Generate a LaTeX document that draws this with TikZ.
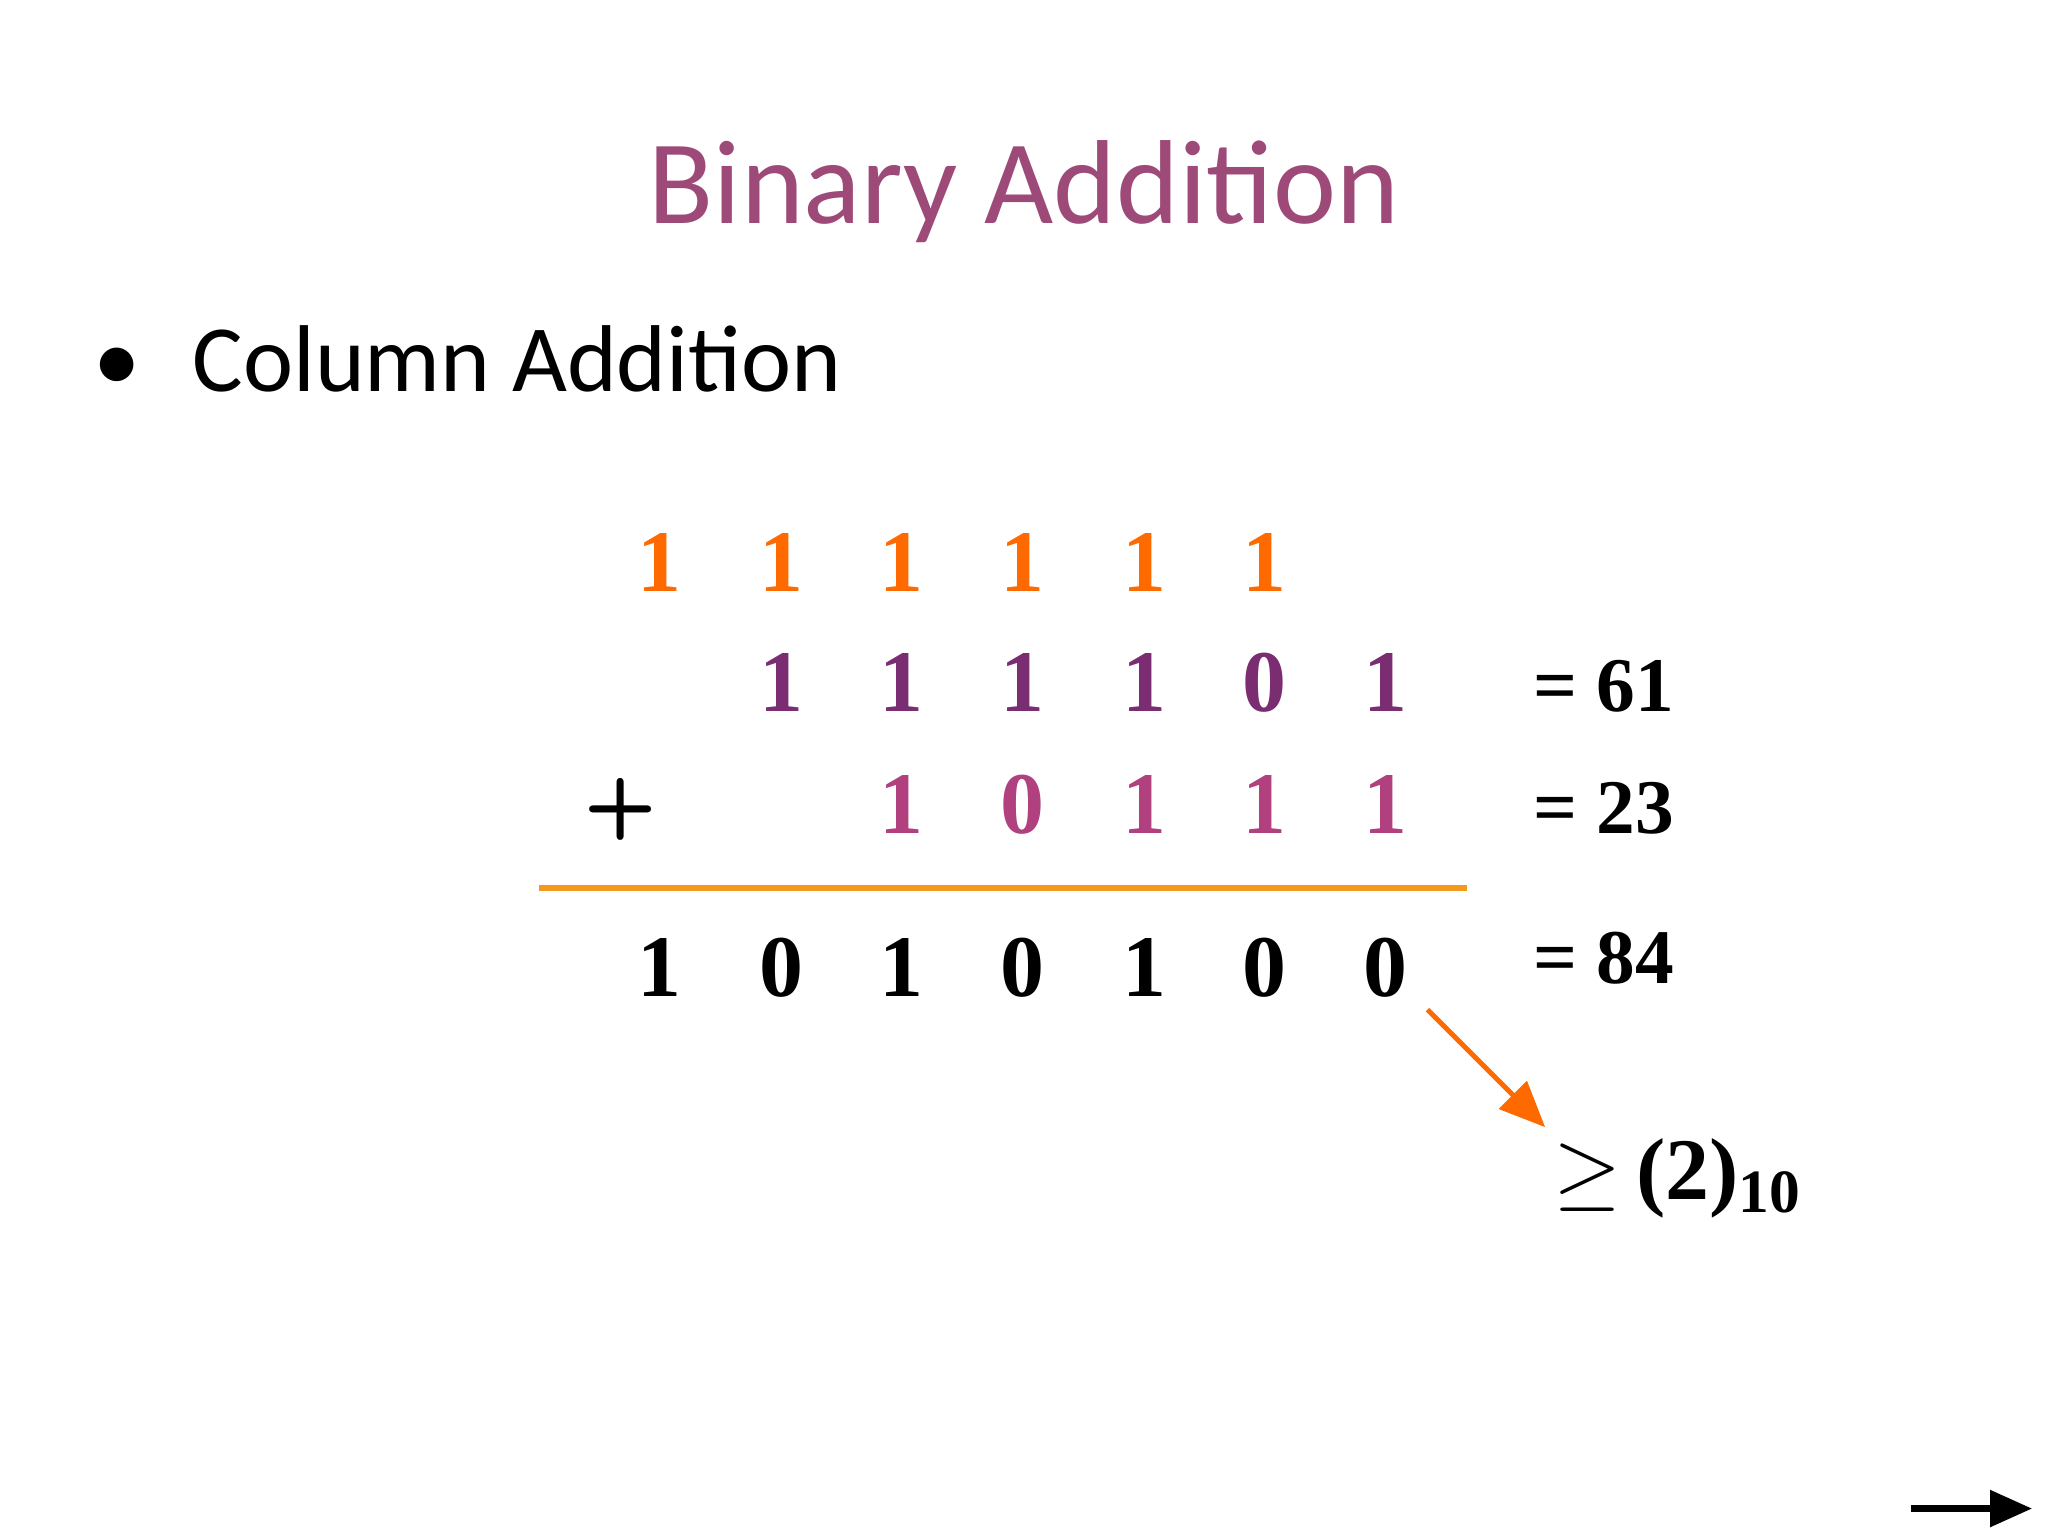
\documentclass[tikz,border=0pt]{standalone}
\usepackage{fontspec}
\setmainfont{Liberation Serif}
\newfontfamily\calfont{Carlito}
\usetikzlibrary{arrows.meta}
\definecolor{ttl}{HTML}{9E4A78}
\definecolor{carry}{HTML}{FF6A00}
\definecolor{rowa}{HTML}{7B2D72}
\definecolor{rowb}{HTML}{B0407E}
\definecolor{rule}{HTML}{F39A1E}
\tikzset{dg/.style={font=\fontsize{25}{30}\selectfont\bfseries, anchor=base},
 eq/.style={font=\fontsize{22}{26}\selectfont\bfseries, anchor=base}}
\begin{document}
\begin{tikzpicture}[x=0.01306cm,y=-0.01306cm]
\useasboundingbox (0,0) rectangle (1568,1176);
\node[text=ttl,font=\calfont\fontsize{34}{40}\selectfont] (title) at (784,147) {Binary Addition};
\node[anchor=west,font=\calfont\fontsize{27}{32}\selectfont] (bul) at (62,275) {•\hspace{0.55em}Column Addition};
\foreach \x [count=\i] in {505,598,690,783,876,968}
  \node[dg,text=carry] (c\i) at (\x,453) {1};
\foreach \x/\d [count=\i] in {598/1,690/1,783/1,876/1,968/0,1061/1}
  \node[dg,text=rowa] (a\i) at (\x,545) {\d};
\foreach \x/\d [count=\i] in {690/1,783/0,876/1,968/1,1061/1}
  \node[dg,text=rowb] (b\i) at (\x,638) {\d};
\foreach \x/\d [count=\i] in {505/1,598/0,690/1,783/0,876/1,968/0,1061/0}
  \node[dg] (r\i) at (\x,763) {\d};
\node[font=\sffamily\bfseries\fontsize{24}{28}\selectfont] (plus) at (475,620) {+};
\draw[rule,line width=1.8pt] (413,680) coordinate (l1) -- (1123,680) coordinate (l2);
\node[eq] (e1) at (1228,545) {= 61};
\node[eq] (e2) at (1228,638) {= 23};
\node[eq] (e3) at (1228,753) {= 84};
\node[anchor=base west,font=\fontsize{25}{30}\selectfont\bfseries] (ge) at (1180,918) {$\geq$\,(2)\textsubscript{10}};
\coordinate (s) at (1093,773);
\draw[carry,line width=1.4pt,-{Triangle[length=13pt,width=11pt]}] (s) -- (1183,863);
\coordinate (n1) at (1463,1155);
\coordinate (n2) at (1556,1155);
\draw[line width=2.2pt,-{Triangle[length=12pt,width=10pt]}] (n1) -- (n2);
\end{tikzpicture}
\end{document}
